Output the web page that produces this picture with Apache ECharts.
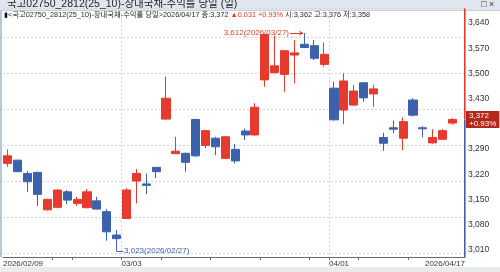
<!DOCTYPE html>
<html><head><meta charset="utf-8">
<script src="https://cdn.jsdelivr.net/npm/echarts@6/dist/echarts.min.js"></script>
<style>html,body{margin:0;padding:0;background:#fff;overflow:hidden}#c{width:500px;height:272px}</style>
</head><body><div id="c"></div>
<script>
const dates = ['2026/02/09','2026/02/10','2026/02/11','2026/02/12','2026/02/13','2026/02/19','2026/02/20','2026/02/23','2026/02/24','2026/02/25','2026/02/26','2026/02/27',
'2026/03/03','2026/03/04','2026/03/05','2026/03/06','2026/03/09','2026/03/10','2026/03/11','2026/03/12','2026/03/13','2026/03/16','2026/03/17','2026/03/18','2026/03/19','2026/03/20','2026/03/23','2026/03/24','2026/03/25','2026/03/26','2026/03/27','2026/03/30','2026/03/31',
'2026/04/01','2026/04/02','2026/04/03','2026/04/06','2026/04/07','2026/04/08','2026/04/09','2026/04/10','2026/04/13','2026/04/14','2026/04/15','2026/04/16','2026/04/17'];
const opens  = [3250,3259,3222,3225,3121,3128,3171,3139,3127,3146,3116,3051,3097,3201,3193,3239,3373,3277,3278,3372,3300,3320,3264,3289,3340,3329,3482,3502,3497,3551,3581,3577,3525,3459,3398,3412,3474,3443,3322,3349,3320,3426,3349,3307,3317,3362];
const closes = [3271,3227,3199,3164,3150,3176,3148,3150,3171,3123,3060,3041,3176,3222,3189,3227,3431,3284,3253,3271,3341,3296,3324,3257,3329,3406,3608,3521,3563,3557,3572,3542,3553,3371,3479,3451,3432,3457,3306,3345,3366,3384,3346,3322,3341,3372];
const lows   = [3241,3226,3171,3132,3119,3125,3137,3132,3125,3122,3035,3023,3096,3139,3165,3209,3372,3276,3227,3268,3292,3273,3262,3250,3315,3327,3463,3500,3449,3472,3570,3537,3519,3369,3359,3410,3421,3407,3285,3334,3287,3380,3322,3305,3316,3358];
const highs  = [3289,3260,3229,3227,3152,3178,3176,3157,3179,3157,3123,3065,3181,3234,3222,3240,3491,3324,3280,3374,3343,3324,3326,3304,3347,3417,3610,3605,3565,3593,3612,3593,3586,3477,3500,3468,3476,3468,3335,3369,3378,3431,3353,3345,3345,3376];
const yTicks = [3010,3080,3150,3220,3290,3360,3430,3500,3570,3640];
const titleText = '국고02750_2812(25_10)-장내국채-수익률 당일 (일)';
const seriesName = '국고02750_2812(25_10)-장내국채-수익률 당일';

const F = '"Liberation Sans", "Noto Sans CJK KR", sans-serif';
const RED = '#e63a2e', BLUE = '#3c62ad';
const n = dates.length, last = n - 1;
const lastClose = closes[last], prevClose = closes[last - 1];
const chg = lastClose - prevClose;
const pct = chg / prevClose * 100;
const fmt = v => v.toLocaleString('en-US');
let maxIdx = 0, minIdx = 0;
highs.forEach((h, i) => { if (h >= highs[maxIdx]) maxIdx = i; });
lows.forEach((l, i) => { if (l < lows[minIdx]) minIdx = i; });
const Y_MIN = 2990, Y_MAX = 3680;
const X_MIN = 0.5, X_MAX = 47.26;
const pos = i => i + 1;
const AX = X_MAX - 0.02;

const monthStarts = [], weekStarts = [];
for (let i = 1; i < n; i++) {
  if (dates[i].slice(5, 7) !== dates[i - 1].slice(5, 7)) monthStarts.push(i);
  const d0 = new Date(dates[i - 1].replace(/\//g, '-')).getDay();
  const d1 = new Date(dates[i].replace(/\//g, '-')).getDay();
  if (d1 <= d0) weekStarts.push(i);
}
const tickVals = Array.from(new Set(weekStarts.concat(monthStarts))).sort((a, b) => a - b).map(i => pos(i) - 0.5);
const labelVals = [X_MIN].concat(monthStarts.map(i => pos(i) - 0.5)).concat([X_MAX]);

const chart = echarts.init(document.getElementById('c'));
const sign = chg >= 0 ? '▲' : '▼';
const pctText = (pct >= 0 ? '+' : '') + pct.toFixed(2) + '%';
const infoText = '{b|▮}{t|<' + seriesName + '>' + dates[last] + ' 종:' + fmt(lastClose) + ' }{r|' + sign + (Math.abs(chg) / 1000).toFixed(3) + ' ' + pctText + '}{t| 시:' + fmt(opens[last]) + ' 고:' + fmt(highs[last]) + ' 저:' + fmt(lows[last]) + '}';
const minY = lows[minIdx] - 17;

chart.setOption({
  animation: false,
  backgroundColor: '#fff',
  graphic: [
    { type: 'rect', shape: { x: 0, y: 0, width: 500, height: 10 }, style: { fill: '#dfe6ee' }, z: -1 },
    { type: 'rect', shape: { x: 0, y: 10, width: 500, height: 1 }, style: { fill: '#c3cfdc' }, z: -1 },
    { type: 'rect', shape: { x: 0, y: 10, width: 2, height: 247 }, style: { fill: '#b7c6d8' }, z: -1 },
    { type: 'rect', shape: { x: 0, y: 267, width: 500, height: 5 }, style: { fill: '#e8ecf0' }, z: -1 },
    { type: 'text', left: 481, top: 0, style: { text: '□ ×', font: '9px ' + F, fill: '#333' } }
  ],
  title: [
    { text: titleText, left: 7, top: -1, padding: 0, textStyle: { fontSize: 10.5, fontWeight: 'normal', color: '#1e1e1e', fontFamily: F, lineHeight: 11 } },
    { text: infoText, left: 4, top: 11, padding: 0, textStyle: { fontSize: 7.3, fontWeight: 'normal', color: '#222', fontFamily: F,
      rich: { b: { fontSize: 7.3, color: '#111', fontFamily: F }, t: { fontSize: 7.3, color: '#2a2a2a', fontFamily: F }, r: { fontSize: 7.3, color: RED, fontFamily: F } } } }
  ],
  grid: { left: 2.05, right: 35, top: 8.6, bottom: 15, containLabel: false },
  xAxis: [
    { type: 'value', min: X_MIN, max: X_MAX, position: 'bottom',
      axisLine: { show: true, lineStyle: { color: '#6b6b6b', width: 1 } },
      axisTick: { show: true, customValues: tickVals, length: 3, lineStyle: { color: '#6b6b6b' } },
      axisLabel: { show: true, customValues: labelVals, fontSize: 8, color: '#333', fontFamily: F, margin: 3, align: 'left', alignMaxLabel: 'right', alignMinLabel: 'left',
        formatter: v => { if (v <= X_MIN + 0.01) return dates[0]; if (v >= X_MAX - 0.01) return dates[last]; return dates[Math.round(v - 0.5)].slice(5); } },
      splitLine: { show: false } },
    { type: 'value', min: X_MIN, max: X_MAX, position: 'bottom',
      axisLine: { show: false }, axisLabel: { show: false },
      axisTick: { show: false, customValues: monthStarts.map(i => pos(i) - 0.5) },
      splitLine: { show: true, lineStyle: { color: '#d4d4d4', type: [2, 2], width: 1 } } }
  ],
  yAxis: {
    type: 'value', position: 'right', min: Y_MIN, max: Y_MAX,
    axisLine: { show: false },
    axisTick: { show: false },
    axisLabel: { customValues: yTicks, fontSize: 8.5, color: '#333', fontFamily: F, margin: 3, formatter: v => fmt(v) },
    splitLine: { show: true, lineStyle: { color: '#d4d4d4', type: [2, 2], width: 1 } }
  },
  series: [
  { type: 'line', clip: false, silent: true, symbol: 'none', z: 5, lineStyle: { color: RED, width: 1.6 },
    data: [[AX, Y_MAX], [AX, lastClose]] },
  { type: 'line', clip: false, silent: true, symbol: 'none', z: 5, lineStyle: { color: BLUE, width: 1.6 },
    data: [[AX, lastClose], [AX, Y_MIN]] },
  {
    type: 'candlestick',
    xAxisIndex: 0,
    data: dates.map((d, i) => [pos(i), opens[i], closes[i], lows[i], highs[i]]),
    encode: { x: 0, y: [1, 2, 3, 4] },
    barWidth: 8.6,
    itemStyle: { color: RED, color0: BLUE, borderColor: RED, borderColor0: BLUE, borderWidth: 1 },
    markLine: {
      silent: true, animation: false, symbol: 'none', z: 10,
      data: [
        { yAxis: lastClose, lineStyle: { color: 'rgba(0,0,0,0)', width: 0.1 },
          label: { show: true, position: 'end', distance: 1, formatter: fmt(lastClose) + '\n' + pctText,
            color: '#fff', backgroundColor: '#b3271d', fontSize: 8, lineHeight: 8, padding: [1, 3, 0, 3], fontFamily: F } },
        [ { coord: [pos(maxIdx) - 1.45, highs[maxIdx]], symbol: 'none', lineStyle: { color: RED, width: 1, type: 'solid' },
            label: { show: true, position: 'start', distance: 1, formatter: fmt(highs[maxIdx]) + '(' + dates[maxIdx] + ')', color: RED, fontSize: 8, fontFamily: F } },
          { coord: [pos(maxIdx) - 0.12, highs[maxIdx]], symbol: 'arrow', symbolSize: 4 } ],
        [ { coord: [pos(minIdx), lows[minIdx]], symbol: 'none', lineStyle: { color: BLUE, width: 1, type: 'solid' }, label: { show: false } },
          { coord: [pos(minIdx), minY], symbol: 'none' } ],
        [ { coord: [pos(minIdx), minY], symbol: 'none', lineStyle: { color: BLUE, width: 1, type: 'solid' },
            label: { show: true, position: 'end', distance: 1, formatter: fmt(lows[minIdx]) + '(' + dates[minIdx] + ')', color: BLUE, fontSize: 8, fontFamily: F } },
          { coord: [pos(minIdx) + 0.65, minY], symbol: 'none' } ]
      ]
    }
  }]
});
</script>
</body></html>
